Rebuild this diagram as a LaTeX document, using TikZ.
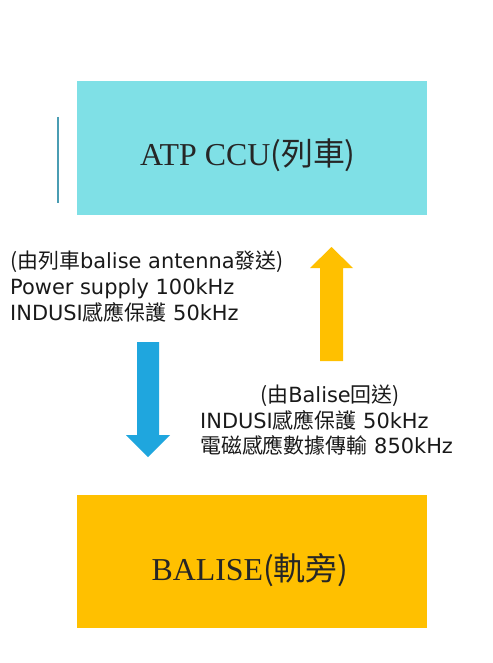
\documentclass[tikz,border=0pt]{standalone}
\usepackage{fontspec}
\setmainfont{DejaVu Sans}
\newfontfamily\cjk{Noto Sans CJK TC}
\newfontfamily\boxlat{Liberation Serif}
\definecolor{topcyan}{HTML}{7FE0E6}
\definecolor{gold}{HTML}{FFC000}
\definecolor{arrowblue}{HTML}{1FA6DE}
\definecolor{tealline}{HTML}{4A9DB3}
\begin{document}
\begin{tikzpicture}[x=1bp,y=-1bp,
  lbl/.style={inner sep=0pt,font=\fontsize{21}{25}\selectfont,text=black!90},
  title/.style={inner sep=0pt,font=\fontsize{32}{36}\selectfont,text=black!85}]
\useasboundingbox (0,0) rectangle (493,663);
\fill[white] (0,0) rectangle (493,663);
% boxes
\fill[topcyan] (77,81) rectangle (427,215);
\fill[gold] (77,495) rectangle (427,628);
\draw[tealline,line width=2bp] (58,117) -- (58,203);
\node[title,anchor=base] (ccut) at (248,165) {\boxlat ATP CCU\cjk(列車)};
\node[title,anchor=base] (balt) at (250,580) {\boxlat BALISE\cjk(軌旁)};
% blue arrow
\fill[arrowblue] (137,342) -- (159,342) -- (159,435) -- (170,435) -- (148,457) -- (126,435) -- (137,435) -- cycle;
% yellow arrow
\fill[gold] (320,361) -- (343,361) -- (343,268) -- (353,268) -- (331.5,247) -- (310,268) -- (320,268) -- cycle;
% left labels
\node[lbl,anchor=base west] (l1) at (10,268) {{\cjk(由列車}balise antenna{\cjk 發送)}};
\node[lbl,anchor=base west] (l2) at (10,294) {Power supply 100kHz};
\node[lbl,anchor=base west] (l3) at (10,320) {INDUSI{\cjk 感應保護} 50kHz};
% right labels
\node[lbl,anchor=base] (r1) at (330,402) {{\cjk(由}Balise{\cjk 回送)}};
\node[lbl,anchor=base west] (r2) at (200,428) {INDUSI{\cjk 感應保護} 50kHz};
\node[lbl,anchor=base west] (r3) at (200,453) {{\cjk 電磁感應數據傳輸} 850kHz};
\end{tikzpicture}
\end{document}
